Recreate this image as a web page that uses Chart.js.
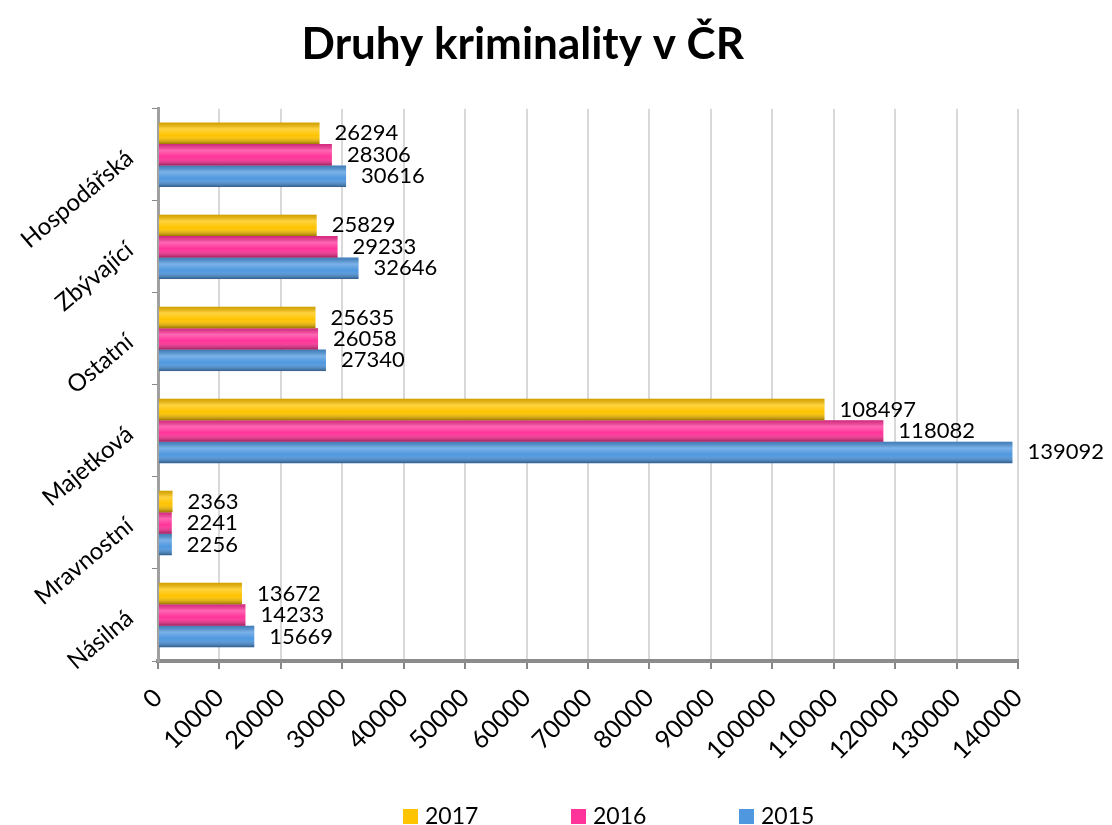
<!DOCTYPE html>
<html>
<head>
<meta charset="utf-8">
<script src="https://cdn.jsdelivr.net/npm/chart.js@4.4.1/dist/chart.umd.min.js"></script>
<style>
  html, body { margin: 0; padding: 0; background: #fff; }
  #wrap { width: 1112px; height: 825px; }
</style>
</head>
<body>
<div id="wrap"><canvas id="crimeChart"></canvas></div>
<script>
const categories = ['Hospodářská', 'Zbývající', 'Ostatní', 'Majetková', 'Mravnostní', 'Násilná'];
const values2017 = [26294, 25829, 25635, 108497, 2363, 13672];
const values2016 = [28306, 29233, 26058, 118082, 2241, 14233];
const values2015 = [30616, 32646, 27340, 139092, 2256, 15669];
const seriesNames = ['2017', '2016', '2015'];

const FONT = 'Lato, "Open Sans", sans-serif';

// numbers next to the bar ends
const valueLabels = {
  id: 'valueLabels',
  afterDatasetsDraw(chart) {
    const ctx = chart.ctx;
    ctx.save();
    ctx.font = '22px ' + FONT;
    ctx.fillStyle = '#000';
    ctx.textAlign = 'left';
    ctx.textBaseline = 'middle';
    chart.data.datasets.forEach((ds, i) => {
      const meta = chart.getDatasetMeta(i);
      meta.data.forEach((bar, j) => {
        ctx.fillText(String(ds.data[j]), bar.x + 15, bar.y);
      });
    });
    ctx.restore();
  }
};

// shading so the bars look rounded like the original
const barShade = {
  id: 'barShade',
  afterDatasetsDraw(chart) {
    const ctx = chart.ctx;
    ctx.save();
    chart.data.datasets.forEach((ds, i) => {
      chart.getDatasetMeta(i).data.forEach(bar => {
        const h = bar.height;
        const top = bar.y - h / 2;
        const left = Math.min(bar.base, bar.x);
        const w = Math.abs(bar.x - bar.base);
        const g = ctx.createLinearGradient(0, top, 0, top + h);
        g.addColorStop(0, 'rgba(0,0,0,0.18)');
        g.addColorStop(0.3, 'rgba(255,255,255,0.25)');
        g.addColorStop(0.6, 'rgba(255,255,255,0)');
        g.addColorStop(1, 'rgba(0,0,0,0.4)');
        ctx.fillStyle = g;
        ctx.fillRect(left, top, w, h);
      });
    });
    ctx.restore();
  }
};

// legend row at the bottom, spaced wide like the original
const bottomLegend = {
  id: 'bottomLegend',
  afterDraw(chart) {
    const ctx = chart.ctx;
    const x0 = chart.chartArea.left + 245;
    const y = chart.height - 8;
    ctx.save();
    ctx.font = '23px ' + FONT;
    ctx.textBaseline = 'middle';
    ctx.textAlign = 'left';
    chart.data.datasets.forEach((ds, i) => {
      const x = x0 + i * 168;
      ctx.fillStyle = ds.backgroundColor;
      ctx.fillRect(x, y - 8, 15, 15);
      ctx.fillStyle = '#000';
      ctx.fillText(ds.label, x + 22, y);
    });
    ctx.restore();
  }
};

new Chart(document.getElementById('crimeChart'), {
  type: 'bar',
  data: {
    labels: categories,
    datasets: [
      { label: seriesNames[0], data: values2017, backgroundColor: '#FFC400' },
      { label: seriesNames[1], data: values2016, backgroundColor: '#FF3399' },
      { label: seriesNames[2], data: values2015, backgroundColor: '#4F98E0' }
    ]
  },
  options: {
    indexAxis: 'y',
    responsive: true,
    maintainAspectRatio: false,
    animation: false,
    datasets: {
      bar: { categoryPercentage: 0.7, barPercentage: 1.0 }
    },
    layout: { padding: { left: 0, right: 94, top: 0, bottom: 0 } },
    scales: {
      x: {
        min: 0,
        max: 140000,
        ticks: {
          stepSize: 10000,
          minRotation: 45,
          maxRotation: 45,
          color: '#000',
          font: { family: FONT, size: 25 },
          padding: 14,
          callback: v => String(v)
        },
        grid: { color: '#d9d9d9', lineWidth: 2, tickColor: '#888', tickLength: 8 },
        border: { color: '#8c8c8c', width: 4 },
        afterFit(scale) { scale.height = 164; }
      },
      y: {
        ticks: {
          minRotation: 40,
          maxRotation: 40,
          color: '#000',
          font: { family: FONT, size: 24 },
          padding: 22
        },
        grid: { drawOnChartArea: false, offset: true, tickColor: '#888', tickLength: 6 },
        border: { color: '#a0a0a0', width: 3 },
        afterFit(scale) { scale.width = 158; }
      }
    },
    plugins: {
      title: {
        display: true,
        // leading spaces nudge the centred title right, as in the original
        text: '\u2002\u2009Druhy kriminality v ČR',
        color: '#000',
        font: { family: FONT, size: 44, weight: 'bold' },
        padding: { top: 18, bottom: 38 }
      },
      legend: { display: false },
      tooltip: { enabled: false }
    }
  },
  plugins: [barShade, valueLabels, bottomLegend]
});
</script>
</body>
</html>
